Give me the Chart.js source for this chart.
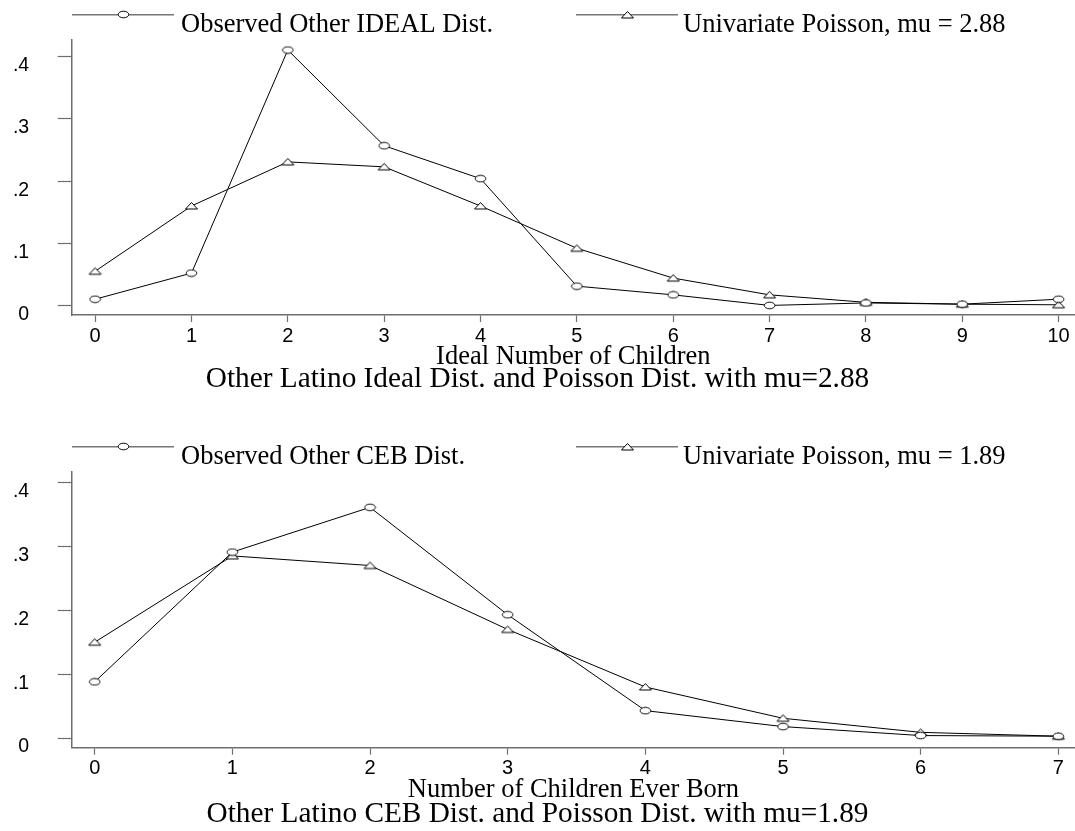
<!DOCTYPE html>
<html>
<head>
<meta charset="utf-8">
<script src="https://cdn.jsdelivr.net/npm/chart.js@4.4.1/dist/chart.umd.min.js"></script>
<style>
  html, body { margin: 0; padding: 0; background: #fff; }
  #wrap { position: relative; width: 1075px; height: 831px; }
  canvas { position: absolute; left: 0; }
</style>
</head>
<body>
<div id="wrap">
  <canvas id="idealChart" width="1075" height="432" style="top:0"></canvas>
  <canvas id="cebChart" width="1075" height="399" style="top:432px"></canvas>
</div>
<script>
// Ideal number of children (top panel)
const idealX = [0, 1, 2, 3, 4, 5, 6, 7, 8, 9, 10];
const idealObserved = [0.010, 0.052, 0.411, 0.257, 0.204, 0.031, 0.017, 0.000, 0.004, 0.002, 0.010];
const idealPoisson = [0.055, 0.160, 0.231, 0.223, 0.160, 0.092, 0.044, 0.017, 0.005, 0.002, 0.001];

// Children ever born (bottom panel)
const cebX = [0, 1, 2, 3, 4, 5, 6, 7];
const cebObserved = [0.088, 0.291, 0.361, 0.193, 0.043, 0.018, 0.004, 0.003];
const cebPoisson = [0.150, 0.285, 0.270, 0.170, 0.080, 0.031, 0.009, 0.003];

const yTicks = [0, 0.1, 0.2, 0.3, 0.4];
const yTickLabels = ['0', '.1', '.2', '.3', '.4'];

const SERIF = '"Liberation Serif", "Times New Roman", serif';
const SANS = '"Liberation Sans", Arial, sans-serif';
const AXIS_GRAY = '#6e6e6e';
const TITLE_SIZE = 29.3;
const AXIS_TITLE_SIZE = 26.5;

// hollow markers, slightly squashed like the original
function makeCircle() {
    const c = document.createElement('canvas');
    c.width = 13; c.height = 9;
    const ctx = c.getContext('2d');
    ctx.beginPath();
    ctx.ellipse(6.5, 4.5, 5.3, 3.3, 0, 0, Math.PI * 2);
    ctx.fillStyle = '#fff';
    ctx.fill();
    ctx.strokeStyle = '#000';
    ctx.lineWidth = 1;
    ctx.stroke();
    return c;
}

function makeTriangle() {
    const c = document.createElement('canvas');
    c.width = 15; c.height = 10;
    const ctx = c.getContext('2d');
    ctx.beginPath();
    ctx.moveTo(1.5, 8);
    ctx.lineTo(7.5, 1.5);
    ctx.lineTo(13.5, 8);
    ctx.closePath();
    ctx.fillStyle = '#fff';
    ctx.fill();
    ctx.strokeStyle = '#000';
    ctx.lineWidth = 1;
    ctx.stroke();
    return c;
}

const circleMark = makeCircle();
const triangleMark = makeTriangle();

// legend drawn as line sample with the marker in the middle
const lineLegend = {
    id: 'lineLegend',
    afterDraw(chart, args, opts) {
        const ctx = chart.ctx;
        ctx.save();
        opts.items.forEach((item, i) => {
            const ds = chart.data.datasets[i];
            ctx.strokeStyle = '#777';
            ctx.lineWidth = 1.5;
            ctx.beginPath();
            ctx.moveTo(item.x1, opts.y);
            ctx.lineTo(item.x2, opts.y);
            ctx.stroke();
            const img = ds.pointStyle;
            ctx.drawImage(img, Math.round((item.x1 + item.x2) / 2 - img.width / 2), Math.round(opts.y - img.height / 2));
            ctx.fillStyle = '#000';
            ctx.font = '26.5px ' + SERIF;
            ctx.textBaseline = 'alphabetic';
            ctx.textAlign = 'left';
            ctx.fillText(ds.label, item.textX, opts.textY);
        });
        ctx.restore();
    }
};

function toPoints(xs, ys) {
    return xs.map((x, i) => ({ x: x, y: ys[i] }));
}

function makeChart(id, cfg) {
    const el = document.getElementById(id);
    const H = el.height;
    // place titles by their baselines
    const titleTop = cfg.titleBase - 0.805 * TITLE_SIZE;
    const titlePad = H - cfg.titleBase - 0.195 * TITLE_SIZE;
    const axisTitlePad = titleTop - cfg.axisTitleBase - 0.195 * AXIS_TITLE_SIZE;

    return new Chart(el, {
        type: 'line',
        data: {
            datasets: [
                {
                    label: cfg.labels[0],
                    data: toPoints(cfg.xs, cfg.observed),
                    borderColor: '#000',
                    borderWidth: 1,
                    pointStyle: circleMark,
                    tension: 0
                },
                {
                    label: cfg.labels[1],
                    data: toPoints(cfg.xs, cfg.poisson),
                    borderColor: '#000',
                    borderWidth: 1,
                    pointStyle: triangleMark,
                    tension: 0
                }
            ]
        },
        options: {
            responsive: false,
            animation: false,
            events: [],
            layout: { autoPadding: false, padding: { top: 28, left: 0, right: 0, bottom: 0 } },
            plugins: {
                legend: { display: false },
                tooltip: { enabled: false },
                title: {
                    display: true,
                    position: 'bottom',
                    text: cfg.title,
                    color: '#000',
                    font: { family: SERIF, size: TITLE_SIZE, weight: 'normal', lineHeight: 1 },
                    padding: { top: 0, bottom: titlePad }
                },
                lineLegend: {
                    y: 14.7,
                    textY: 32,
                    items: [
                        { x1: 72, x2: 174, textX: 181 },
                        { x1: 576, x2: 678, textX: 683 }
                    ]
                }
            },
            scales: {
                x: {
                    type: 'linear',
                    min: cfg.xMin,
                    max: cfg.xMax,
                    afterBuildTicks: scale => { scale.ticks = cfg.xs.map(v => ({ value: v })); },
                    afterFit: scale => { scale.height = titleTop - cfg.axisY; },
                    grid: { drawOnChartArea: false, drawTicks: true, tickLength: 7, tickColor: AXIS_GRAY, tickWidth: 1.2 },
                    border: { display: true, color: AXIS_GRAY, width: 1.5 },
                    ticks: {
                        autoSkip: false,
                        maxRotation: 0,
                        padding: 2,
                        color: '#000',
                        font: { family: SANS, size: 20 }
                    },
                    title: {
                        display: true,
                        text: cfg.xTitle,
                        color: '#000',
                        font: { family: SERIF, size: AXIS_TITLE_SIZE, lineHeight: 1 },
                        padding: { top: 0, bottom: axisTitlePad }
                    }
                },
                y: {
                    min: cfg.yMin,
                    max: cfg.yMax,
                    afterBuildTicks: scale => { scale.ticks = yTicks.map(v => ({ value: v })); },
                    afterFit: scale => { scale.width = 71.7; },
                    grid: { drawOnChartArea: false, drawTicks: true, tickLength: 14, tickColor: AXIS_GRAY, tickWidth: 1.2 },
                    border: { display: true, color: AXIS_GRAY, width: 1.5 },
                    ticks: {
                        padding: 28.5,
                        labelOffset: 9,
                        color: '#000',
                        font: { family: SANS, size: 19.5 },
                        callback: (v, i) => yTickLabels[i]
                    }
                }
            }
        },
        plugins: [lineLegend]
    });
}

makeChart('idealChart', {
    xs: idealX,
    observed: idealObserved,
    poisson: idealPoisson,
    labels: ['Observed Other IDEAL Dist.', 'Univariate Poisson, mu = 2.88'],
    xTitle: 'Ideal Number of Children',
    title: 'Other Latino Ideal Dist. and Poisson Dist. with mu=2.88',
    xMin: -0.243, xMax: 10.17,
    yMin: -0.0154, yMax: 0.4268,
    axisY: 315, axisTitleBase: 365, titleBase: 388.3
});

makeChart('cebChart', {
    xs: cebX,
    observed: cebObserved,
    poisson: cebPoisson,
    labels: ['Observed Other CEB Dist.', 'Univariate Poisson, mu = 1.89'],
    xTitle: 'Number of Children Ever Born',
    title: 'Other Latino CEB Dist. and Poisson Dist. with mu=1.89',
    xMin: -0.167, xMax: 7.121,
    yMin: -0.015, yMax: 0.416,
    axisY: 315.7, axisTitleBase: 366.3, titleBase: 391.3
});
</script>
</body>
</html>
